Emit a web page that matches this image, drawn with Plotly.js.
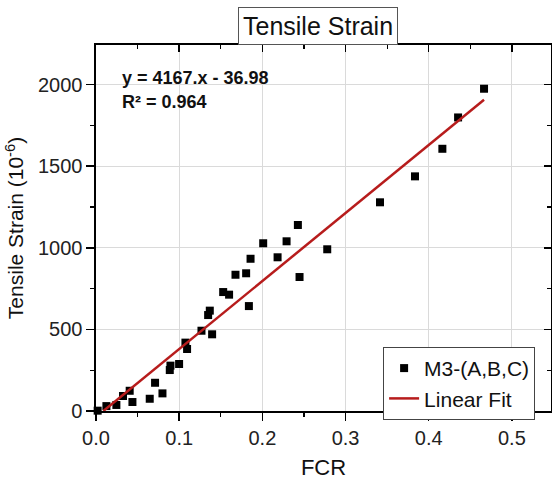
<!DOCTYPE html>
<html>
<head>
<meta charset="utf-8">
<script src="https://cdn.plot.ly/plotly-3.0.1.min.js"></script>
<style>html,body{margin:0;padding:0;background:#fff;}#chart{width:552px;height:482px;}</style>
</head>
<body>
<div id="chart"></div>
<script>
// Data
const fcr = [0.002, 0.0125, 0.0245, 0.0325, 0.0405, 0.0438, 0.0646, 0.071, 0.0799, 0.0887, 0.0895, 0.0999, 0.1075, 0.1095, 0.1268, 0.1348, 0.1368, 0.1396, 0.1529, 0.160, 0.1677, 0.1805, 0.1838, 0.1858, 0.201, 0.2183, 0.2291, 0.2427, 0.2447, 0.278, 0.3414, 0.3835, 0.4164, 0.4353, 0.4665];
const strain = [2, 30, 37, 92, 124, 55, 75, 173, 108, 251, 278, 288, 419, 380, 492, 588, 615, 470, 729, 713, 835, 844, 643, 933, 1028, 942, 1040, 1140, 821, 991, 1279, 1438, 1607, 1799, 1975];
const seriesNames = ["M3-(A,B,C)", "Linear Fit"];
const fitSlope = 4167;
const fitIntercept = -36.98;
const equationText = ["y = 4167.x - 36.98", "R\u00b2 = 0.964"];
const xTickVals = [0, 0.1, 0.2, 0.3, 0.4, 0.5];
const xTickText = ["0.0", "0.1", "0.2", "0.3", "0.4", "0.5"];
const yTickVals = [0, 500, 1000, 1500, 2000];

const fitX = [-fitIntercept / fitSlope, Math.max(...fcr)];
const fitY = fitX.map(x => fitSlope * x + fitIntercept);

const FONT = "Arial, 'Liberation Sans', sans-serif";
const xRange = [0, 0.547];
const yRange = [0, 2243];

const traces = [
  {x: fcr, y: strain, type: 'scatter', mode: 'markers', name: seriesNames[0],
   marker: {symbol: 'square', size: 8, color: '#000'}, cliponaxis: false},
  {x: fitX, y: fitY, type: 'scatter', mode: 'lines', name: seriesNames[1],
   line: {color: '#b71c1c', width: 2.5}},
  {x: [], y: [], xaxis: 'x2', yaxis: 'y2', type: 'scatter', showlegend: false, hoverinfo: 'skip'}
];

const layout = {
  width: 552, height: 482,
  margin: {l: 96, r: 1, t: 45, b: 71},
  paper_bgcolor: '#fff', plot_bgcolor: '#fff',
  font: {family: FONT, color: '#000'},
  showlegend: true,
  xaxis: {
    range: xRange, tickvals: xTickVals, ticktext: xTickText,
    ticks: 'outside', ticklen: 8, tickwidth: 1.5, tickcolor: '#000',
    showline: true, linecolor: '#000', linewidth: 1.6, mirror: true,
    showgrid: true, gridcolor: '#dadada', gridwidth: 1, zeroline: false,
    tickfont: {size: 20, color: '#222', family: FONT},
    minor: {dtick: 0.05, tick0: 0, ticks: 'outside', ticklen: 4, tickwidth: 1.2, tickcolor: '#000', showgrid: false},
    title: {text: 'FCR', font: {size: 22, family: FONT, color: '#111'}, standoff: 12}
  },
  yaxis: {
    range: yRange, tickvals: yTickVals,
    ticks: 'outside', ticklen: 8, tickwidth: 1.5, tickcolor: '#000',
    showline: true, linecolor: '#000', linewidth: 1.6, mirror: true,
    showgrid: true, gridcolor: '#dadada', gridwidth: 1, zeroline: false,
    tickfont: {size: 20, color: '#222', family: FONT},
    minor: {dtick: 250, tick0: 0, ticks: 'outside', ticklen: 4, tickwidth: 1.2, tickcolor: '#000', showgrid: false},
    title: {text: 'Tensile Strain (10<sup>-6</sup>)', font: {size: 21, family: FONT, color: '#111'}, standoff: 8}
  },
  xaxis2: {
    overlaying: 'x', side: 'top', anchor: 'y', range: xRange, tickvals: xTickVals,
    ticks: 'inside', ticklen: 7, tickwidth: 1.5, tickcolor: '#000',
    showticklabels: false, showgrid: false, showline: false, zeroline: false,
    minor: {dtick: 0.05, tick0: 0, ticks: 'inside', ticklen: 4, tickwidth: 1.2, tickcolor: '#000', showgrid: false}
  },
  yaxis2: {
    overlaying: 'y', side: 'right', anchor: 'x', range: yRange, tickvals: yTickVals,
    ticks: 'inside', ticklen: 7, tickwidth: 1.5, tickcolor: '#000',
    showticklabels: false, showgrid: false, showline: false, zeroline: false,
    minor: {dtick: 250, tick0: 0, ticks: 'inside', ticklen: 4, tickwidth: 1.2, tickcolor: '#000', showgrid: false}
  },
  legend: {
    x: 0.631, y: 0.175, xanchor: 'left', yanchor: 'top',
    bgcolor: '#fff', bordercolor: '#444', borderwidth: 1,
    font: {size: 21, family: FONT, color: '#111'},
    tracegroupgap: 0
  },
  annotations: [
    {text: 'Tensile Strain', xref: 'paper', yref: 'paper', x: 0.488, y: 1.052,
     xanchor: 'center', yanchor: 'middle', showarrow: false,
     font: {size: 25, family: FONT, color: '#111'},
     bordercolor: '#555', borderwidth: 1, borderpad: 4, bgcolor: '#fff'},
    {text: '<b>' + equationText[0] + '</b>', xref: 'paper', yref: 'paper', x: 0.052, y: 0.91,
     xanchor: 'left', yanchor: 'middle', showarrow: false,
     font: {size: 18, family: FONT, color: '#111'}},
    {text: '<b>' + equationText[1] + '</b>', xref: 'paper', yref: 'paper', x: 0.052, y: 0.844,
     xanchor: 'left', yanchor: 'middle', showarrow: false,
     font: {size: 18, family: FONT, color: '#111'}}
  ]
};

Plotly.newPlot('chart', traces, layout, {displayModeBar: false, staticPlot: true});
</script>
</body>
</html>
